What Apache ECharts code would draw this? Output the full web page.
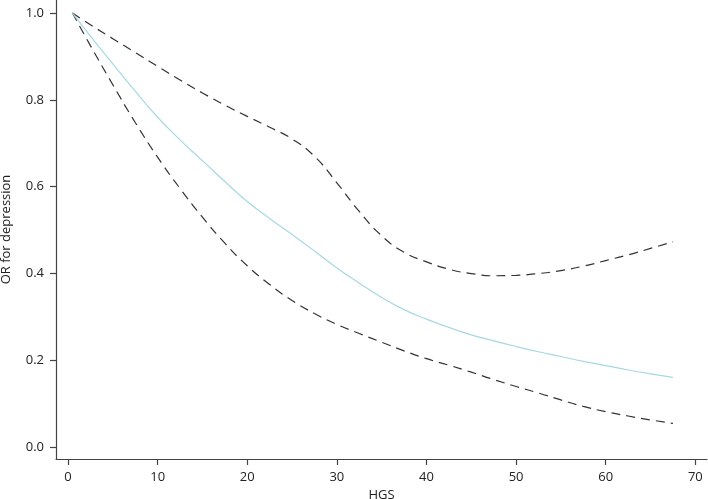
<!DOCTYPE html>
<html>
<head>
<meta charset="utf-8">
<script src="https://cdn.jsdelivr.net/npm/echarts@6/dist/echarts.min.js"></script>
<style>html,body{margin:0;padding:0;background:#fff}#c{width:708px;height:499px}</style>
</head>
<body>
<div id="c"></div>
<script>
const hgs = [0.5, 2.5, 5, 7.5, 10, 12.5, 15, 17.5, 20, 22.5, 25, 27.5, 30, 32.5, 35, 37.5, 40, 42.5, 45, 47.5, 50, 52.5, 55, 57.5, 60, 62.5, 65, 67.5];
const orCenter = [1.0, 0.947, 0.883, 0.820, 0.760, 0.708, 0.660, 0.612, 0.566, 0.527, 0.490, 0.452, 0.413, 0.378, 0.345, 0.317, 0.295, 0.276, 0.259, 0.245, 0.232, 0.220, 0.209, 0.198, 0.188, 0.178, 0.169, 0.161];
const orUpper = [1.0, 0.973, 0.941, 0.909, 0.877, 0.846, 0.816, 0.788, 0.762, 0.737, 0.710, 0.670, 0.609, 0.543, 0.487, 0.449, 0.427, 0.410, 0.400, 0.395, 0.396, 0.400, 0.407, 0.417, 0.430, 0.443, 0.458, 0.473];
const orLower = [1.0, 0.925, 0.835, 0.748, 0.668, 0.596, 0.530, 0.470, 0.418, 0.375, 0.338, 0.308, 0.283, 0.262, 0.242, 0.222, 0.204, 0.189, 0.173, 0.156, 0.140, 0.125, 0.109, 0.094, 0.082, 0.072, 0.063, 0.055];
const xTicks = [0, 10, 20, 30, 40, 50, 60, 70];
const yTicks = [0.0, 0.2, 0.4, 0.6, 0.8, 1.0];

const pairs = a => hgs.map((x, i) => [x, a[i]]);
const font = '"Open Sans", "Noto Sans", sans-serif';
const chart = echarts.init(document.getElementById('c'), null, {renderer: 'canvas'});
chart.setOption({
  animation: false,
  backgroundColor: '#fff',
  grid: {left: 56, right: 1, top: 0, bottom: 40, containLabel: false, outerBoundsMode: 'none'},
  xAxis: {
    type: 'value', min: -1.34, max: 71.3,
    name: 'HGS', nameLocation: 'middle', nameGap: 27,
    nameTextStyle: {color: '#222', fontSize: 13, fontFamily: font},
    splitLine: {show: false},
    axisLine: {show: true, onZero: false, lineStyle: {color: '#444', width: 1.2}},
    axisTick: {show: true, length: 6, lineStyle: {color: '#444', width: 1.2}, customValues: xTicks},
    axisLabel: {color: '#222', fontSize: 13, fontFamily: font, margin: 12, customValues: xTicks,
      formatter: v => String(v)}
  },
  yAxis: {
    type: 'value', min: -0.027, max: 1.03,
    name: 'OR for depression', nameLocation: 'middle', nameGap: 43, nameRotate: 90,
    nameTextStyle: {color: '#222', fontSize: 13, fontFamily: font},
    splitLine: {show: false},
    axisLine: {show: true, onZero: false, lineStyle: {color: '#444', width: 1.2}},
    axisTick: {show: true, length: 6, lineStyle: {color: '#444', width: 1.2}, customValues: yTicks},
    axisLabel: {color: '#222', fontSize: 13, fontFamily: font, margin: 12, customValues: yTicks,
      formatter: v => v.toFixed(1)}
  },
  series: [
    {type: 'line', data: pairs(orUpper), smooth: 0.5, symbol: 'none',
      lineStyle: {color: '#333', width: 1.2, type: [9, 6]}},
    {type: 'line', data: pairs(orLower), smooth: 0.5, symbol: 'none',
      lineStyle: {color: '#333', width: 1.2, type: [9, 6]}},
    {type: 'line', data: pairs(orCenter), smooth: 0.5, symbol: 'none',
      lineStyle: {color: '#a6d8e4', width: 1.2}}
  ]
});
</script>
</body>
</html>
